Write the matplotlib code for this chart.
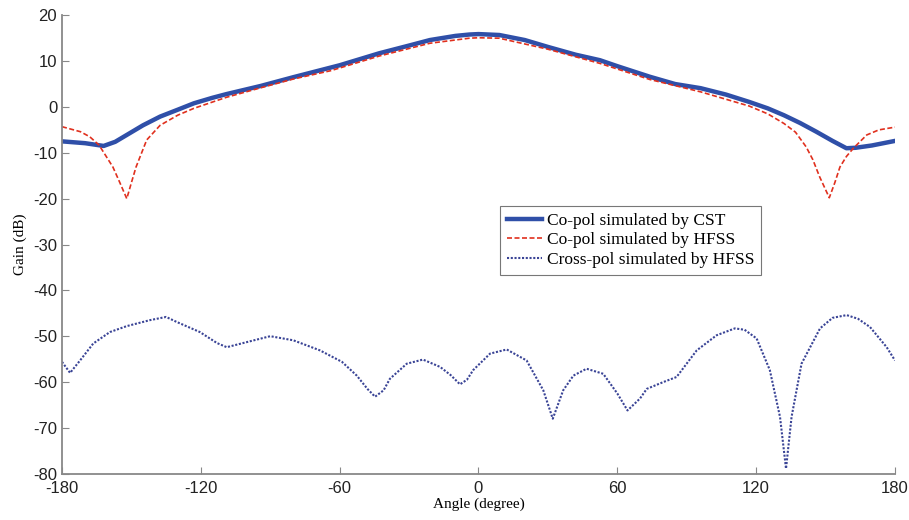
import matplotlib.pyplot as plt

plt.rcParams['axes.unicode_minus'] = False

# Co-pol simulated by CST
cst_angle = [-180, -170, -162, -157, -152, -145, -137.6, -130, -123, -115, -109, -94, -80,
             -70, -60, -43, -30, -21, -10, -4, 0, 9, 20, 30, 42, 52.5, 60, 74, 85, 96,
             107, 117, 125, 132, 139, 146, 153, 159, 163, 170, 175, 180]
cst_gain = [-7.5, -7.9, -8.5, -7.6, -6.1, -4.0, -2.1, -0.6, 0.8, 2.0, 2.8, 4.6, 6.5,
            7.8, 9.1, 11.7, 13.4, 14.6, 15.5, 15.8, 15.9, 15.7, 14.6, 13.1, 11.4, 10.2, 8.9, 6.6, 5.0, 4.1,
            2.7, 1.1, -0.3, -1.8, -3.5, -5.4, -7.4, -9.0, -8.9, -8.4, -7.9, -7.4]

# Co-pol simulated by HFSS
hfss_angle = [-180, -172, -168, -164, -158, -155, -152, -150, -148, -143.4, -137.6, -130,
              -123, -109, -94, -80, -64, -60, -43, -21, -4, 0, 9, 30, 52.5, 74, 96, 117,
              125, 132, 137, 141.6, 144.5, 147.4, 151.6, 154, 156.2, 159, 162, 167.8, 173, 180]
hfss_gain = [-4.3, -5.4, -6.5, -8.3, -13.1, -16.5, -20.0, -16.5, -13.1, -7.2, -4.0, -1.8,
             -0.3, 2.1, 4.2, 6.1, 7.9, 8.5, 11.1, 13.9, 15.0, 15.1, 15.0, 12.6, 9.5, 6.0, 3.3, 0.2,
             -1.5, -3.6, -5.5, -8.7, -11.5, -15.2, -19.8, -16.5, -13.1, -10.8, -9.0, -6.1, -5.0, -4.4]

# Cross-pol simulated by HFSS
xpol_angle = [-180, -176.5, -172.2, -166.5, -159.3, -152, -142, -135, -130.4, -120.4, -113,
              -108.8, -100.2, -90, -80, -68.5, -59, -52.6, -48, -44.7, -41, -38.3, -31, -24,
              -16.6, -12, -8, -5, -2.3, 5, 12.2, 20.8, 28, 32.1, 36.6, 41, 46.7, 53.9, 60,
              64.4, 69.8, 72.7, 79.9, 85.6, 94.3, 102.9, 110.8, 115, 120.2, 125.9, 130.3,
              132.9, 135.3, 139.6, 147.6, 153, 159.1, 164, 169.2, 176.4, 180]
xpol_gain = [-55.6, -58.0, -55.3, -51.6, -49.1, -47.8, -46.5, -45.8, -46.9, -49.1, -51.5,
             -52.4, -51.3, -50.0, -50.9, -53.1, -55.6, -58.6, -61.5, -63.2, -61.8, -59.3, -56.0, -55.1,
             -56.7, -58.5, -60.5, -59.5, -57.4, -53.8, -52.9, -55.3, -61.8, -68.0, -61.8, -58.6, -57.1, -58.2, -62.5,
             -66.2, -63.6, -61.5, -60.0, -58.9, -53.1, -49.8, -48.3, -48.6, -50.5, -57.4, -67.6,
             -78.9, -67.6, -56.0, -48.3, -46.0, -45.4, -46.2, -48.0, -52.4, -55.3]

xticks = [-180, -120, -60, 0, 60, 120, 180]
yticks = [-80, -70, -60, -50, -40, -30, -20, -10, 0, 10, 20]

fig = plt.figure(figsize=(9.09, 5.2), dpi=100)
ax = fig.add_axes([0.0682, 0.089, 0.9164, 0.8816])

ax.plot(cst_angle, cst_gain, color='#2f4fa8', linewidth=3.2, label='Co-pol simulated by CST')
ax.plot(hfss_angle, hfss_gain, color='#e0301e', linewidth=1.2, linestyle=(0, (3, 1.5)),
        label='Co-pol simulated by HFSS')
ax.plot(xpol_angle, xpol_gain, color='#3a4496', linewidth=1.5, linestyle=(0, (1, 0.8)),
        label='Cross-pol simulated by HFSS')

ax.set_xlim(-180, 180)
ax.set_ylim(-80, 20)
ax.set_xticks(xticks)
ax.set_yticks(yticks)
ax.tick_params(direction='in', length=5, color='#888888', labelsize=12, labelcolor='#222222')
ax.tick_params(axis='x', pad=5)
for lab in ax.get_xticklabels() + ax.get_yticklabels():
    lab.set_family('Liberation Sans')

for s in ['top', 'right']:
    ax.spines[s].set_visible(False)
for s in ['left', 'bottom']:
    ax.spines[s].set_color('#888888')
    ax.spines[s].set_linewidth(1.3)

ax.set_xlabel('Angle (degree)', family='Liberation Serif', fontsize=11, labelpad=1)
ax.set_ylabel('Gain (dB)', family='Liberation Serif', fontsize=11, labelpad=4)

leg = ax.legend(loc='upper left', bbox_to_anchor=(0.526, 0.585), frameon=True, fancybox=False,
                prop={'family': 'Liberation Serif', 'size': 12.5}, handlelength=2.0,
                handletextpad=0.3, borderpad=0.4, labelspacing=0.2, borderaxespad=0)
leg.get_frame().set_edgecolor('#555555')
leg.get_frame().set_linewidth(0.8)

fig.savefig('out.png', dpi=100)
